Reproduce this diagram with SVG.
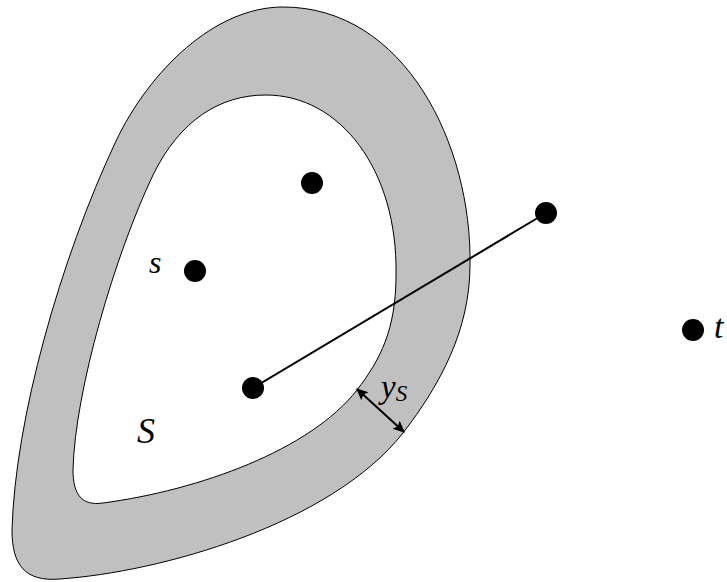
<svg xmlns="http://www.w3.org/2000/svg" width="727" height="582" viewBox="0 0 727 582">
<defs>
<style>
.dot{fill:#000}
.edge{stroke:#000;stroke-width:2;fill:none}
.region{stroke:#000;stroke-width:1}
.lbl{font-family:"Liberation Serif","Times New Roman",serif;font-style:italic;fill:#000}
</style>
<marker id="ah" viewBox="0 0 10 10" refX="9" refY="5" markerWidth="6" markerHeight="6" orient="auto-start-reverse" markerUnits="strokeWidth">
<path d="M0,0.5 L10,5 L0,9.5 L2,5 Z" fill="#000"/>
</marker>
</defs>
<rect width="727" height="582" fill="#fff"/>
<g id="outer-region">
<path class="region" fill="#c0c0c0" d="M283,7 C405,7 472,145 470,265 C470,330 440,385 403,433 C330,525 160,572 60,579 C25,582 12,565 12,530 C15,420 60,260 116,141 C150,70 215,7 283,7 Z"/>
</g>
<g id="inner-region">
<path class="region" fill="#fff" d="M266,95 C340,95 398,170 396,275 C396,330 380,360 357,390 C310,450 200,490 103,503 C82,506 73,495 73,470 C75,390 115,255 153,175 C180,120 220,95 266,95 Z"/>
</g>
<g id="connectors">
<line class="edge" x1="253" y1="388" x2="546" y2="213"/>
<line x1="357" y1="389" x2="404" y2="432" stroke="#000" stroke-width="2" marker-start="url(#ah)" marker-end="url(#ah)"/>
</g>
<g id="node-a"><circle class="dot" cx="312" cy="183" r="11"/></g>
<g id="node-b"><circle class="dot" cx="546" cy="213" r="11"/></g>
<g id="node-s"><circle class="dot" cx="195" cy="271" r="11"/><text class="lbl" x="149" y="273" style="font-size:32px">s</text></g>
<g id="node-c"><circle class="dot" cx="253" cy="388" r="11"/></g>
<g id="node-t"><circle class="dot" cx="693" cy="330" r="11"/><text class="lbl" x="714" y="338" style="font-size:34px">t</text></g>
<g id="label-S"><text class="lbl" x="137" y="443" style="font-size:36px">S</text></g>
<g id="label-yS"><text class="lbl" x="381" y="398" style="font-size:33px">y<tspan style="font-size:23px" dy="3">S</tspan></text></g>
</svg>
